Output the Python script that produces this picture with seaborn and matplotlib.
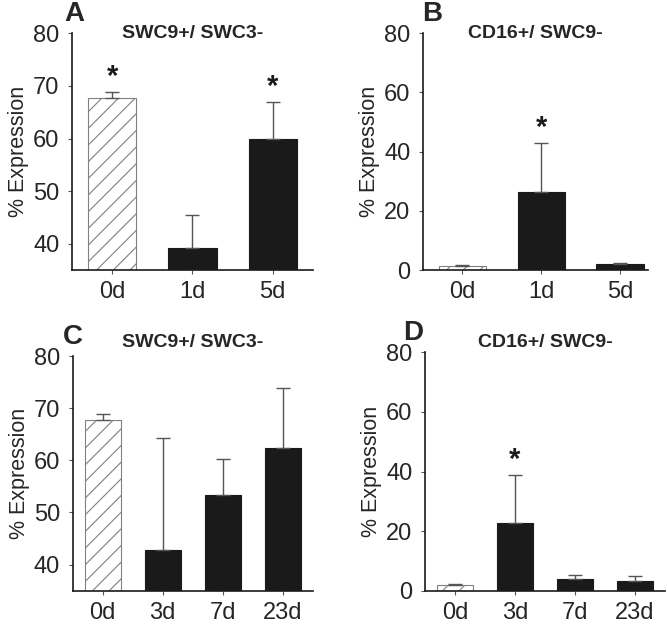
import matplotlib
matplotlib.use("Agg")
import numpy as np
import pandas as pd
import seaborn as sns
import matplotlib.pyplot as plt

sns.set_style("ticks")
plt.rcParams['font.family'] = ['Liberation Sans', 'DejaVu Sans']
plt.rcParams['hatch.color'] = '#808080'
plt.rcParams['hatch.linewidth'] = 0.8

# panel A / C: SWC9+/ SWC3-, panel B / D: CD16+/ SWC9-
days_ab = ['0d', '1d', '5d']
days_cd = ['0d', '3d', '7d', '23d']

swc_a = [67.7, 39.3, 60.0]
swc_a_err = [1.2, 6.2, 7.0]
cd16_b = [1.5, 26.4, 2.2]
cd16_b_err = [0.4, 16.5, 0.4]
swc_c = [67.7, 42.8, 53.4, 62.3]
swc_c_err = [1.2, 21.5, 6.9, 11.5]
cd16_d = [1.8, 22.8, 4.0, 3.4]
cd16_d_err = [0.5, 16.1, 1.2, 1.4]

star_a = [True, False, True]
star_b = [False, True, False]
star_c = [False, False, False, False]
star_d = [False, True, False, False]

fig = plt.figure(figsize=(6.67, 6.27), dpi=100)
axA = fig.add_axes([0.108, 0.569, 0.361, 0.378])
axB = fig.add_axes([0.634, 0.569, 0.337, 0.378])
axC = fig.add_axes([0.109, 0.058, 0.360, 0.374])
axD = fig.add_axes([0.637, 0.058, 0.360, 0.380])


def panel(ax, days, vals, errs, stars, letter, title, ylim, yticks, xright, letter_x, title_y):
    df = pd.DataFrame({'day': days, 'val': vals})
    colors = ['white'] + ['#1a1a1a'] * (len(days) - 1)
    sns.barplot(data=df, x='day', y='val', hue='day', palette=colors, legend=False,
                width=0.6, errorbar=None, ax=ax, linewidth=0.8, saturation=1)
    for i, p in enumerate(ax.patches):
        if i == 0:
            p.set_hatch('//')
            p.set_edgecolor('#808080')
        else:
            p.set_edgecolor('#1a1a1a')
    x = np.arange(len(days))
    ax.errorbar(x, vals, yerr=[np.zeros(len(errs)), errs], fmt='none',
                ecolor='#555555', elinewidth=1.0, capsize=5, capthick=1.0, zorder=1)
    span = ylim[1] - ylim[0]
    for i in range(len(days)):
        if stars[i]:
            ax.text(x[i], vals[i] + errs[i] + span * 0.005, '*', ha='center', va='bottom',
                    fontsize=21, fontweight='bold', color='#1a1a1a')
    ax.set_ylim(*ylim)
    ax.set_yticks(yticks)
    ax.set_xlim(-0.5, xright)
    ax.set_xlabel('')
    ax.set_ylabel('% Expression', fontsize=15.5, labelpad=3)
    ax.tick_params(axis='both', labelsize=17, length=3, width=0.8, color='#555555')
    ax.tick_params(axis='x', pad=5)
    ax.tick_params(axis='y', pad=6)
    sns.despine(ax=ax)
    for s in ['left', 'bottom']:
        ax.spines[s].set_linewidth(1.2)
        ax.spines[s].set_color('#1a1a1a')
    ax.text(0.5, title_y, title, transform=ax.transAxes, ha='center', va='center',
            fontsize=14, fontweight='bold')
    ax.text(letter_x, 1.08, letter, transform=ax.transAxes, ha='center', va='center',
            fontsize=20, fontweight='bold')


panel(axA, days_ab, swc_a, swc_a_err, star_a, 'A', 'SWC9+/ SWC3-', (35, 80), [40, 50, 60, 70, 80], 2.5, 0.01, 1.0)
panel(axB, days_ab, cd16_b, cd16_b_err, star_b, 'B', 'CD16+/ SWC9-', (0, 80), [0, 20, 40, 60, 80], 2.35, 0.04, 1.0)
panel(axC, days_cd, swc_c, swc_c_err, star_c, 'C', 'SWC9+/ SWC3-', (35, 80), [40, 50, 60, 70, 80], 3.5, 0.0, 1.06)
panel(axD, days_cd, cd16_d, cd16_d_err, star_d, 'D', 'CD16+/ SWC9-', (0, 80), [0, 20, 40, 60, 80], 3.5, -0.05, 1.04)

fig.savefig('out.png', dpi=100)
